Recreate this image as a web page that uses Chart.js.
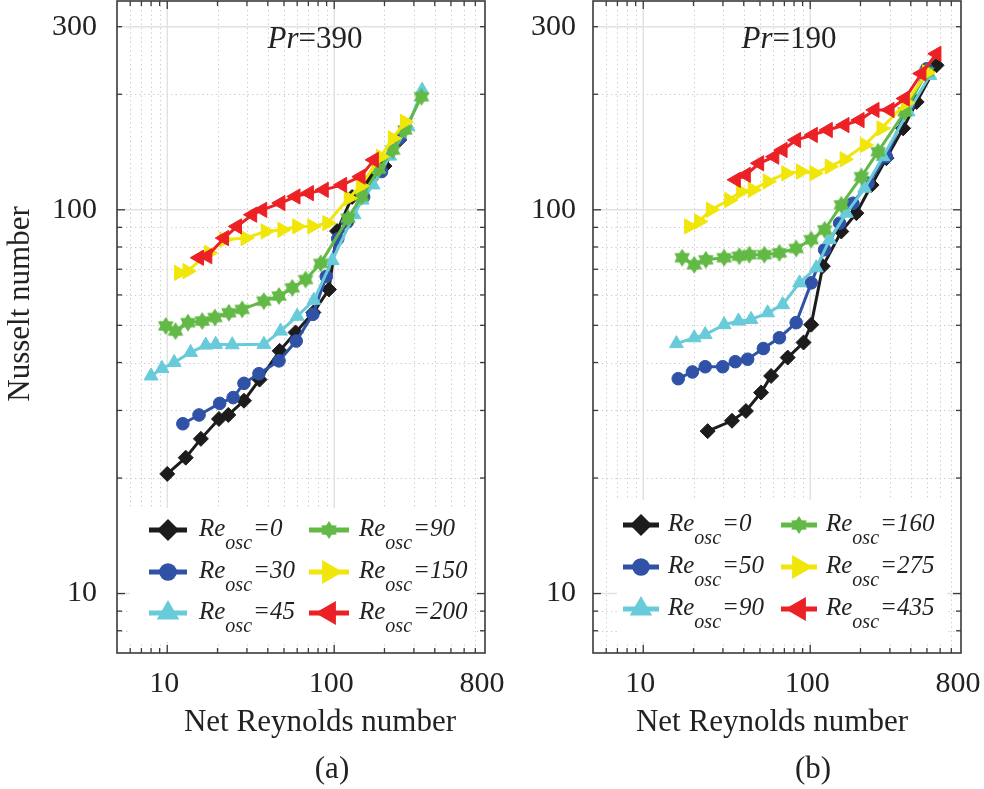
<!DOCTYPE html>
<html><head><meta charset="utf-8">
<script src="https://cdn.jsdelivr.net/npm/chart.js@4.4.1/dist/chart.umd.min.js"></script>
<style>
html,body{margin:0;padding:0;background:#fff;}
#wrap{position:relative;width:984px;height:789px;overflow:hidden;}
canvas{position:absolute;top:0;}
</style></head><body>
<div id="wrap">
<canvas id="ca" width="520" height="789" style="left:0"></canvas>
<canvas id="cb" width="492" height="789" style="left:492px"></canvas>
</div>
<script>
// ---------------- DATA : panel (a), Pr = 390 ----------------
const a_re0_x  = [10.0, 12.9, 15.9, 20.4, 23.2, 28.8, 35.7, 47.1, 58.7, 75, 93, 104, 128, 165, 200, 245];
const a_re0_y  = [20.5, 22.6, 25.3, 28.5, 29.2, 31.8, 36.1, 42.9, 47.9, 54, 62, 88, 108, 120, 130, 152];
const a_re30_x = [12.4, 15.5, 20.6, 24.8, 28.8, 35.4, 46.7, 59.2, 74.5, 89.6, 105, 120, 150, 192, 247];
const a_re30_y = [27.7, 29.2, 31.3, 32.4, 35.3, 37.4, 40.4, 45.5, 53.4, 67, 84, 93, 108, 125.8, 153.5];
const a_re45_x = [8.0, 9.3, 11.0, 13.8, 17.0, 19.5, 24.5, 37.9, 47.7, 60, 75.5, 97.3, 131.5, 147, 171, 215, 277, 336];
const a_re45_y = [36.9, 38.6, 40.0, 42.5, 44.4, 44.6, 44.5, 44.6, 48.3, 52.8, 58.1, 73.8, 97.1, 106, 116.1, 138, 164.6, 205];
const a_re90_x = [9.8, 11.2, 13.3, 16.2, 19.3, 23.4, 28.1, 37.9, 46.7, 56.1, 67.4, 83, 121, 146, 185, 224, 265, 333];
const a_re90_y = [49.8, 48.3, 50.8, 51.3, 52.4, 53.9, 55.0, 57.8, 59.6, 62.6, 65.8, 72.5, 95.1, 108.3, 127.6, 143, 161.4, 197];
const a_re150_x = [11.75, 13.2, 17.8, 21.9, 29.4, 38.8, 48.9, 60, 73.8, 90.8, 122, 144, 190, 224, 265];
const a_re150_y = [68.5, 69.2, 77.2, 83.6, 84.4, 87.8, 88.7, 90.5, 90.5, 92.3, 107.2, 115.4, 137.5, 153.5, 169.5];
const a_re200_x = [15.5, 17.4, 21.9, 26.2, 32.3, 37.1, 47.7, 58.7, 70.6, 86.7, 111.7, 144, 173];
const a_re200_y = [75.0, 75.7, 84.4, 90.5, 97.1, 100, 104.1, 108.3, 110.5, 112.7, 116.1, 122, 134.9];
const a_legend = ['0', '30', '45', '90', '150', '200'];

// ---------------- DATA : panel (b), Pr = 190 ----------------
const b_re0_x  = [24.3, 34.0, 41.2, 50.8, 58.3, 73.3, 91.2, 101.4, 119, 153.5, 189, 233, 286, 360, 434, 571];
const b_re0_y  = [26.5, 28.2, 29.9, 33.4, 36.9, 41.2, 45.1, 50.2, 71.3, 87.8, 98, 116, 136.3, 163, 191, 238];
const b_re50_x = [16.2, 19.7, 23.5, 29.9, 35.6, 42.2, 52.4, 65.4, 82.4, 101.4, 122, 150, 180, 222, 286, 386, 498];
const b_re50_y = [36.3, 37.8, 39.0, 39.0, 40.2, 40.8, 43.5, 46.4, 50.8, 64.5, 78.7, 92.3, 104, 117.3, 137.5, 187.4, 233];
const b_re90_x = [15.8, 20.2, 23.5, 30.5, 37.2, 44.2, 55.6, 68.4, 86.3, 108.7, 130.6, 164.5, 212, 273, 386, 521];
const b_re90_y = [44.8, 46.4, 47.3, 50.2, 51.3, 51.8, 53.9, 56.6, 64.5, 70.6, 83.6, 98, 113.8, 137.5, 180, 224];
const b_re160_x = [17.1, 20.2, 23.7, 30.5, 37.6, 43.2, 53.1, 65.4, 82.4, 101.4, 122, 153.5, 202.6, 255, 369, 498];
const b_re160_y = [75.0, 71.9, 74.1, 75.0, 75.7, 76.4, 76.4, 77.2, 79.3, 83.6, 88.7, 103, 122, 141.7, 180, 228.6];
const b_re275_x = [18.8, 21.6, 25.4, 32.7, 38.5, 45.2, 55.6, 71.8, 88, 106, 130.6, 160.6, 212, 267, 375, 500];
const b_re275_y = [90.5, 93.2, 100, 106, 111.6, 112.7, 118.5, 124.5, 125.8, 124.5, 129.6, 135.4, 147.5, 163, 190, 228];
const b_re435_x = [35.9, 41.2, 49.5, 61, 68.4, 82.4, 103.8, 127.6, 160.6, 197.8, 243, 299, 369, 464, 571];
const b_re435_y = [119.7, 123.3, 132.2, 137.5, 143.2, 152, 156.7, 161.4, 166.3, 171.3, 182, 182, 195, 226.5, 255];
const b_legend = ['0', '50', '90', '160', '275', '435'];

// ---------------- AXES ----------------
const xTickValues = [5,6,7,8,9,10,20,30,40,50,60,70,80,90,100,200,300,400,500,600,700,800];
const xTickLabels = [10, 100, 800];
const yTickValues = [7,8,9,10,20,30,40,50,60,70,80,90,100,200,300];
const yTickLabels = [10, 100, 300];
const xMin = 5, xMax = 800, yMin = 7, yMax = 350;

// ---------------- STYLE ----------------
const FONT = '"Liberation Serif", "Times New Roman", serif';
const TXT = '#222222';
function hexStar(color, R) {
  const s = Math.ceil(2 * R + 2);
  const c = document.createElement('canvas'); c.width = c.height = s;
  const g = c.getContext('2d'); g.fillStyle = color;
  const cx = s / 2, cy = s / 2;
  g.beginPath();
  for (let i = 0; i < 12; i++) {
    const ang = -Math.PI / 2 + i * Math.PI / 6;
    const rr = (i % 2 === 0) ? R : R * 0.62;
    g.lineTo(cx + rr * Math.cos(ang), cy + rr * Math.sin(ang));
  }
  g.closePath(); g.fill();
  return c;
}
const seriesStyle = [
  {color: '#1c1c1c', point: 'rectRot', r: 7.5, rot: 0},
  {color: '#2f52a6', point: 'circle', r: 6.3, rot: 0},
  {color: '#68cbd9', point: 'triangle', r: 8, rot: 0},
  {color: '#63b946', point: hexStar('#63b946', 9), r: 9, rot: 0},
  {color: '#f1e60a', point: 'triangle', r: 8.8, rot: 90},
  {color: '#ec2125', point: 'triangle', r: 8.8, rot: -90}
];

function makeDatasets(xs, ys) {
  return xs.map((xa, i) => {
    const st = seriesStyle[i];
    return {
      data: xa.map((v, k) => ({x: v, y: ys[i][k]})),
      showLine: true,
      borderColor: st.color, backgroundColor: st.color,
      borderWidth: 3,
      pointStyle: st.point, pointRadius: st.r, pointRotation: st.rot,
      pointBorderWidth: 1, pointBorderColor: st.color, pointBackgroundColor: st.color,
      pointHoverRadius: st.r,
      order: 10 - i
    };
  });
}

function lineAt(ctx, x1, y1, x2, y2) { ctx.beginPath(); ctx.moveTo(x1, y1); ctx.lineTo(x2, y2); ctx.stroke(); }

function decoPlugin(P) {
  return {
    id: 'deco' + P.id,
    beforeDatasetsDraw(chart) {
      const {ctx, chartArea: a, scales: {x, y}} = chart;
      ctx.save();
      ctx.strokeStyle = '#c9c9c9'; ctx.lineWidth = 1; ctx.setLineDash([1.3, 3.2]);
      xTickValues.forEach(v => {
        if (v === xMin || v === xMax || v === 10 || v === 100) return;
        const p = Math.round(x.getPixelForValue(v)) + 0.5;
        lineAt(ctx, p, a.top, p, a.bottom);
      });
      yTickValues.forEach(v => {
        if (v === yMin || v === 10 || v === 100 || v === 300) return;
        const p = Math.round(y.getPixelForValue(v)) + 0.5;
        lineAt(ctx, a.left, p, a.right, p);
      });
      ctx.setLineDash([]); ctx.strokeStyle = '#e2e2e2'; ctx.lineWidth = 1.5;
      [10, 100].forEach(v => { const p = x.getPixelForValue(v); lineAt(ctx, p, a.top, p, a.bottom); });
      [10, 100, 300].forEach(v => { const p = y.getPixelForValue(v); lineAt(ctx, a.left, p, a.right, p); });
      ctx.restore();
    },
    afterDatasetsDraw(chart) {
      const {ctx, chartArea: a, scales: {x, y}} = chart;
      ctx.save();
      ctx.fillStyle = '#ffffff';
      ctx.fillRect(P.legBox[0], P.legBox[1], P.legBox[2], P.legBox[3]);
      ctx.strokeStyle = '#3a3a3a'; ctx.lineWidth = 1.6; ctx.setLineDash([]);
      ctx.strokeRect(a.left, a.top, a.right - a.left, a.bottom - a.top);
      ctx.lineWidth = 1.3;
      xTickValues.forEach(v => {
        if (v === xMin || v === xMax) return;
        const p = x.getPixelForValue(v);
        const L = (v === 10 || v === 100) ? 8 : 5;
        lineAt(ctx, p, a.bottom, p, a.bottom - L);
        lineAt(ctx, p, a.top, p, a.top + L);
      });
      yTickValues.forEach(v => {
        if (v === yMin) return;
        const p = y.getPixelForValue(v);
        const L = (v === 10 || v === 100) ? 8 : 5;
        lineAt(ctx, a.left, p, a.left + L, p);
        lineAt(ctx, a.right, p, a.right - L, p);
      });
      ctx.fillStyle = TXT; ctx.textBaseline = 'alphabetic'; ctx.textAlign = 'left';
      ctx.font = 'italic 31px ' + FONT; const w1 = ctx.measureText('Pr').width;
      ctx.font = '31px ' + FONT; const w2 = ctx.measureText('=' + P.pr).width;
      const sx = P.prX - (w1 + w2) / 2;
      ctx.font = 'italic 31px ' + FONT; ctx.fillText('Pr', sx, 48);
      ctx.font = '31px ' + FONT; ctx.fillText('=' + P.pr, sx + w1, 48);
      ctx.textAlign = 'center';
      ctx.font = '31px ' + FONT;
      ctx.fillText('Net Reynolds number', P.titleX, 731);
      ctx.fillText(P.tag, P.tagX, 778);
      if (P.yTitle) {
        ctx.save(); ctx.translate(21, 304); ctx.rotate(-Math.PI / 2);
        ctx.textBaseline = 'middle'; ctx.fillText('Nusselt number', 0, 0); ctx.restore();
      }
      P.legend.forEach((lab, i) => {
        const col = Math.floor(i / 3), row = i % 3;
        const st = seriesStyle[i];
        const ly = P.legRows[row];
        const x1 = P.legLineX[col][0], x2 = P.legLineX[col][1];
        ctx.strokeStyle = st.color; ctx.lineWidth = 5; ctx.setLineDash([]);
        lineAt(ctx, x1, ly, x2, ly);
        ctx.fillStyle = st.color;
        Chart.helpers.drawPoint(ctx, {pointStyle: st.point, radius: st.r, rotation: st.rot, borderWidth: 1}, (x1 + x2) / 2, ly);
        ctx.fillStyle = TXT; ctx.textAlign = 'left'; ctx.textBaseline = 'alphabetic';
        const tx = P.legTextX[col], by = ly + 6;
        ctx.font = 'italic 25px ' + FONT; ctx.fillText('Re', tx, by);
        const wa = ctx.measureText('Re').width;
        ctx.font = 'italic 20px ' + FONT; ctx.fillText('osc', tx + wa, by + 13);
        const wb = ctx.measureText('osc').width;
        ctx.font = 'italic 25px ' + FONT; ctx.fillText('=' + lab, tx + wa + wb + 1, by);
      });
      ctx.restore();
    }
  };
}

function makeChart(canvasId, xs, ys, P) {
  return new Chart(document.getElementById(canvasId), {
    type: 'scatter',
    data: {datasets: makeDatasets(xs, ys)},
    options: {
      responsive: false, animation: false, devicePixelRatio: 1,
      layout: {autoPadding: false, padding: {left: 0, right: P.padRight, top: 1, bottom: 0}},
      plugins: {legend: {display: false}, tooltip: {enabled: false}},
      scales: {
        x: {
          type: 'logarithmic', min: xMin, max: xMax, bounds: 'data',
          grid: {display: false, drawTicks: false}, border: {display: false},
          afterBuildTicks: s => { s.ticks = xTickValues.map(v => ({value: v})); },
          afterFit: s => { s.height = 136; s.paddingLeft = 0; s.paddingRight = 0; },
          ticks: {
            autoSkip: false, maxRotation: 0, minRotation: 0, padding: 13, labelOffset: -3,
            color: TXT, font: {family: FONT, size: 30},
            callback: v => xTickLabels.includes(v) ? String(v) : ''
          }
        },
        y: {
          type: 'logarithmic', min: yMin, max: yMax, bounds: 'data',
          grid: {display: false, drawTicks: false}, border: {display: false},
          afterBuildTicks: s => { s.ticks = yTickValues.map(v => ({value: v})); },
          afterFit: s => { s.width = P.yWidth; s.paddingTop = 0; s.paddingBottom = 0; },
          ticks: {
            autoSkip: false, padding: P.yPad,
            color: TXT, font: {family: FONT, size: 30},
            callback: v => yTickLabels.includes(v) ? String(v) : ''
          }
        }
      }
    },
    plugins: [decoPlugin(P)]
  });
}

makeChart('ca',
  [a_re0_x, a_re30_x, a_re45_x, a_re90_x, a_re150_x, a_re200_x],
  [a_re0_y, a_re30_y, a_re45_y, a_re90_y, a_re150_y, a_re200_y],
  {id: 'a', padRight: 35, yWidth: 117, yPad: 20, pr: '390', prX: 315, titleX: 320, tag: '(a)', tagX: 332, yTitle: true,
   legend: a_legend, legBox: [130, 508, 343, 134], legRows: [530, 572, 613],
   legLineX: [[149, 187], [309, 349]], legTextX: [199, 359]});

makeChart('cb',
  [b_re0_x, b_re50_x, b_re90_x, b_re160_x, b_re275_x, b_re435_x],
  [b_re0_y, b_re50_y, b_re90_y, b_re160_y, b_re275_y, b_re435_y],
  {id: 'b', padRight: 23, yWidth: 101, yPad: 17, pr: '190', prX: 297, titleX: 280, tag: '(b)', tagX: 321, yTitle: false,
   legend: b_legend, legBox: [125, 500, 330, 142], legRows: [525, 567, 609],
   legLineX: [[131, 167], [289, 325]], legTextX: [176, 334]});
</script>
</body></html>
